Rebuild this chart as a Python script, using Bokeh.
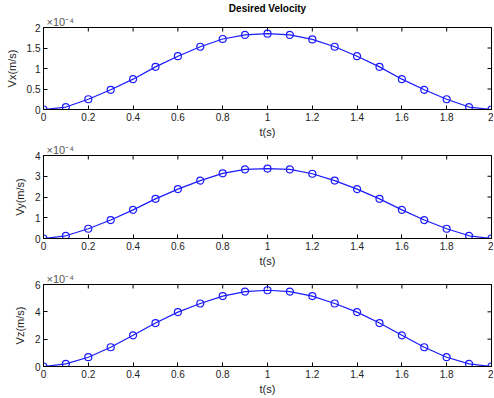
import math
from bokeh.plotting import figure
from bokeh.models import Range1d, Title, FixedTicker
from bokeh.layouts import column
from bokeh.embed import file_html
from bokeh.resources import INLINE

# time samples (s)
t = [0.0, 0.1, 0.2, 0.3, 0.4, 0.5, 0.6, 0.7, 0.8, 0.9, 1.0,
     1.1, 1.2, 1.3, 1.4, 1.5, 1.6, 1.7, 1.8, 1.9, 2.0]
# velocities in units of 1e-4 m/s
vx = [0.0, 0.06, 0.25, 0.48, 0.74, 1.04, 1.30, 1.53, 1.72, 1.82, 1.85,
      1.82, 1.71, 1.53, 1.30, 1.04, 0.74, 0.48, 0.25, 0.06, 0.0]
vy = [0.0, 0.13, 0.47, 0.89, 1.38, 1.91, 2.38, 2.79, 3.14, 3.33, 3.37,
      3.33, 3.12, 2.79, 2.38, 1.91, 1.38, 0.89, 0.47, 0.13, 0.0]
vz = [0.0, 0.19, 0.68, 1.41, 2.28, 3.18, 3.98, 4.61, 5.15, 5.48, 5.58,
      5.48, 5.15, 4.61, 3.98, 3.18, 2.28, 1.41, 0.68, 0.19, 0.0]

x_ticks = [0, 0.2, 0.4, 0.6, 0.8, 1.0, 1.2, 1.4, 1.6, 1.8, 2.0]
ylabels = ["Vx(m/s)", "Vy(m/s)", "Vz(m/s)"]
yticks = [[0, 0.5, 1, 1.5, 2], [0, 1, 2, 3, 4], [0, 2, 4, 6]]
ymax = [2, 4, 6]
series = [vx, vy, vz]
title_text = "Desired Velocity"
exp_text = "\u00d710\u207b\u2074"

heights = [140, 129, 128]
tops = [24, 15, 15]
bottoms = [30, 29, 28]

FONT = "Liberation Sans"
LINE = "#1a1aff"
TXT = "#222222"

figs = []
for i in range(3):
    p = figure(width=493, height=heights[i],
               x_range=Range1d(0, 2), y_range=Range1d(0, ymax[i]),
               output_backend="svg", toolbar_location=None,
               title_location=None,
               min_border_left=43, min_border_right=2,
               min_border_top=tops[i], min_border_bottom=bottoms[i])
    p.grid.visible = False
    p.outline_line_color = "black"
    p.outline_line_width = 1
    p.background_fill_color = "white"
    p.border_fill_color = "white"

    # exponent marker (closest to the frame)
    p.add_layout(Title(text=exp_text, align="left", offset=3,
                       text_font=FONT, text_font_size="11px",
                       text_font_style="normal", text_color="#555555",
                       standoff=0), "above")
    if i == 0:
        p.add_layout(Title(text=title_text, align="center",
                           text_font=FONT, text_font_size="10px",
                           text_font_style="bold", text_color="black",
                           standoff=0), "above")

    for ax in (p.xaxis[0], p.yaxis[0]):
        ax.major_tick_in = 4
        ax.major_tick_out = 0
        ax.minor_tick_line_color = None
        ax.axis_line_color = "black"
        ax.major_tick_line_color = "black"
        ax.major_label_text_font = FONT
        ax.major_label_text_font_size = "10px"
        ax.major_label_text_color = TXT
        ax.axis_label_text_font = FONT
        ax.axis_label_text_font_size = "11px"
        ax.axis_label_text_font_style = "normal"
        ax.axis_label_text_color = TXT
    p.xaxis[0].major_label_standoff = 3
    p.xaxis[0].axis_label_standoff = 2
    p.yaxis[0].major_label_standoff = 3
    p.yaxis[0].axis_label_standoff = 6
    p.xaxis[0].ticker = FixedTicker(ticks=x_ticks)
    p.yaxis[0].ticker = FixedTicker(ticks=yticks[i])
    p.xaxis[0].axis_label = "t(s)"
    p.yaxis[0].axis_label = ylabels[i]
    p.xaxis[0].major_label_overrides = {2.0: "2", 1.0: "1", 0: "0"}

    # mirrored box ticks on top and right edges (half of each dash is clipped)
    p.scatter(x_ticks, [ymax[i]] * len(x_ticks), marker="dash",
              angle=math.pi / 2, size=8, line_color="black", line_width=1)
    p.scatter([2] * len(yticks[i]), yticks[i], marker="dash",
              size=8, line_color="black", line_width=1)

    p.line(t, series[i], line_color=LINE, line_width=1.2)
    p.scatter(t, series[i], marker="circle", size=7, fill_color=None,
              line_color=LINE, line_width=1.2)
    figs.append(p)

layout = column(*figs, spacing=0)
open("out.html", "w").write(file_html(layout, INLINE))
